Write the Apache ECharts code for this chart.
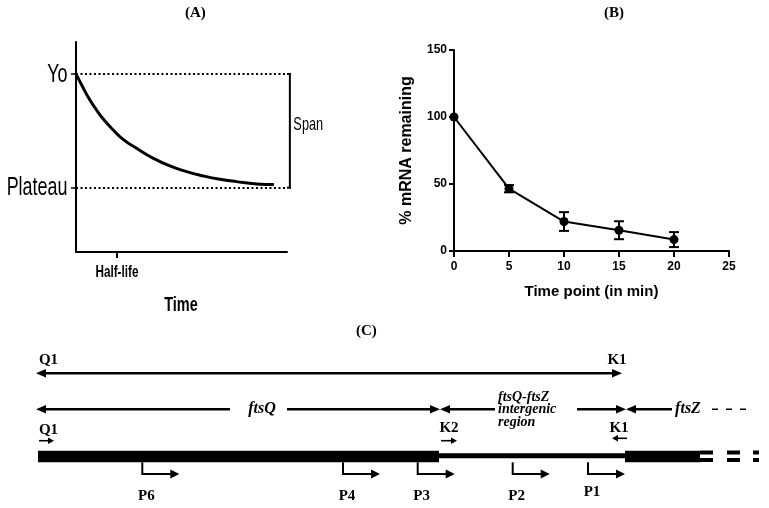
<!DOCTYPE html>
<html><head><meta charset="utf-8">
<script src="https://cdn.jsdelivr.net/npm/echarts@6/dist/echarts.min.js"></script>
<style>html,body{margin:0;padding:0;background:#fff}#c{width:769px;height:508px}</style>
</head><body><div id="c"></div>
<script>
// ---------- Panel A: schematic one-phase decay ----------
const decayTime   = [0, 0.18, 0.34, 0.5, 0.67, 0.91, 1.15, 1.48, 1.89, 2.29, 2.70, 3.11, 3.51, 3.92, 4.41, 4.83];
const decaySignal = [100, 87.4, 77.0, 68.3, 60.1, 50.7, 42.5, 34.6, 25.8, 19.1, 14.1, 10.3, 7.4, 5.3, 3.3, 2.7];
const levelValues = [0, 100];
const levelNames  = ['Plateau', 'Yo'];
const halfLife    = 1;
const halfLifeName = 'Half-life';
const spanName    = 'Span';
const timeAxisA   = 'Time';
const xMaxA = 5.15, yMinA = -56.6, yMaxA = 128.1;
const spanBracketX = 5.22;

// ---------- Panel B: mRNA decay ----------
const timePoints    = [0, 5, 10, 15, 20];
const mrnaRemaining = [100, 46.5, 22, 15.5, 8.5];
const mrnaError     = [0, 2.7, 7, 6.7, 5.6];
const yTitleB = '% mRNA remaining';
const xTitleB = 'Time point (in min)';

// ---------- Panel C: ftsQ-ftsZ region map (map units) ----------
// [start, end, band]
const geneSegments = [
  [8, 409, 'thick'], [409, 595, 'thin'], [595, 670, 'thick'],
  [670, 683, 'breakTop'], [670, 683, 'breakBottom'],
  [697, 710, 'breakTop'], [697, 710, 'breakBottom'],
  [723, 729, 'breakTop'], [723, 729, 'breakBottom']
];
// [from, to, track, heads]
const spanArrows = [
  [6, 592, 53.3, 'both'],
  [6, 200, 89.3, 'start'], [257, 410, 89.3, 'end'],
  [410, 465, 89.3, 'start'], [547, 596, 89.3, 'end'],
  [596, 642, 89.3, 'start']
];
const ftsZDashes = [682, 720, 89.3];
const primerArrows = [[9, 24, 120.7, 'end'], [411, 427, 120.7, 'end'], [597, 582, 118.3, 'end']];
const promoterNames = ['P6', 'P4', 'P3', 'P2', 'P1'];
const promoterPos   = [112.3, 313, 387.7, 482.7, 558];
const promoterLabelTrack = [175.7, 175.7, 175.7, 175.7, 172.3];
// [x, track, text, kind]
const mapLabels = [
  [18.5, 40, 'Q1', 'b'], [587, 40, 'K1', 'b'],
  [18.5, 110, 'Q1', 'b'], [419, 108, 'K2', 'b'], [589, 108, 'K1', 'b'],
  [232, 89, 'ftsQ', 'i'], [468, 89.5, 'ftsQ-ftsZ\nintergenic\nregion', 'il'], [658, 89, 'ftsZ', 'i']
];

// ---------- styles ----------
const SANS = '"Liberation Sans",Arial,sans-serif';
const SERIF = '"Liberation Serif","Times New Roman",serif';
const NARROW_SCALE = 0.69;
const bands = { thick: [130.7, 142.3], thin: [133.3, 138.3], breakTop: [130.5, 134.5], breakBottom: [138, 142] };
const barBottomTrack = 142.3, elbowTrack = 154, promoterLen = 37;

function tri(tipX, y, dir, len, half) {
  return { type: 'polygon', shape: { points: [[tipX, y], [tipX - dir * len, y - half], [tipX - dir * len, y + half]] }, style: { fill: '#000' } };
}
function arrowGroup(api, x1, x2, y, heads, lw, len, half) {
  const a = api.coord([x1, y]), b = api.coord([x2, y]);
  const dir = b[0] >= a[0] ? 1 : -1;
  const ch = [];
  let sx = a[0], ex = b[0];
  if (heads === 'start' || heads === 'both') { ch.push(tri(a[0], a[1], -dir, len, half)); sx = a[0] + dir * (len - 1); }
  if (heads === 'end' || heads === 'both') { ch.push(tri(b[0], b[1], dir, len, half)); ex = b[0] - dir * (len - 1); }
  ch.push({ type: 'line', shape: { x1: sx, y1: a[1], x2: ex, y2: b[1] }, style: { stroke: '#000', lineWidth: lw } });
  return { type: 'group', children: ch };
}
function narrowText(x, y, text, size, bold, align) {
  return { type: 'text', x: x, y: y, scaleX: NARROW_SCALE, scaleY: 1,
    style: { text: text, fontFamily: SANS, fontSize: size, fontWeight: bold ? 'bold' : 'normal', fill: '#000',
      align: align, verticalAlign: 'middle' } };
}

const chart = echarts.init(document.getElementById('c'), null, { renderer: 'canvas' });
const option = {
  animation: false,
  backgroundColor: '#fff',
  title: [
    { text: '(A)', left: 185, top: 6, textStyle: { fontFamily: SERIF, fontWeight: 'bold', fontSize: 15, color: '#000' }, padding: 0 },
    { text: '(B)', left: 604, top: 6, textStyle: { fontFamily: SERIF, fontWeight: 'bold', fontSize: 15, color: '#000' }, padding: 0 },
    { text: '(C)', left: 356, top: 324, textStyle: { fontFamily: SERIF, fontWeight: 'bold', fontSize: 15, color: '#000' }, padding: 0 }
  ],
  grid: [
    { left: 76, top: 42, width: 211, height: 210, outerBoundsMode: 'none' },
    { left: 454, top: 50, width: 275, height: 201, outerBoundsMode: 'none' },
    { left: 30, top: 320, width: 739, height: 188, outerBoundsMode: 'none' }
  ],
  xAxis: [
    { gridIndex: 0, type: 'value', min: 0, max: xMaxA,
      axisLine: { show: true, onZero: false, lineStyle: { color: '#000', width: 2 } },
      axisTick: { show: true, customValues: [halfLife], length: 6, lineStyle: { color: '#000', width: 2 } },
      axisLabel: { show: false },
      splitLine: { show: false } },
    { gridIndex: 1, type: 'value', min: 0, max: 25, interval: 5,
      axisLine: { show: true, onZero: false, lineStyle: { color: '#000', width: 2 } },
      axisTick: { show: true, length: 6, lineStyle: { color: '#000', width: 2 } },
      axisLabel: { margin: 10, fontFamily: SANS, fontWeight: 'bold', fontSize: 12, color: '#000' },
      splitLine: { show: false },
      name: xTitleB, nameLocation: 'middle', nameGap: 33,
      nameTextStyle: { fontFamily: SANS, fontWeight: 'bold', fontSize: 15, color: '#000' } },
    { gridIndex: 2, type: 'value', min: 0, max: 739, show: false }
  ],
  yAxis: [
    { gridIndex: 0, type: 'value', min: yMinA, max: yMaxA,
      axisLine: { show: true, onZero: false, lineStyle: { color: '#000', width: 2 } },
      axisTick: { show: true, customValues: levelValues, length: 5, lineStyle: { color: '#000', width: 1.5 } },
      axisLabel: { show: false },
      splitLine: { show: false } },
    { gridIndex: 1, type: 'value', min: 0, max: 150, interval: 50,
      axisLine: { show: true, onZero: false, lineStyle: { color: '#000', width: 2 } },
      axisTick: { show: true, length: 5, lineStyle: { color: '#000', width: 2 } },
      axisLabel: { margin: 7, fontFamily: SANS, fontWeight: 'bold', fontSize: 12, color: '#000' },
      splitLine: { show: false },
      name: yTitleB, nameLocation: 'middle', nameGap: 39, nameRotate: 90,
      nameTextStyle: { fontFamily: SANS, fontWeight: 'bold', fontSize: 16, color: '#000' } },
    { gridIndex: 2, type: 'value', min: 0, max: 188, inverse: true, show: false }
  ],
  series: [
    // Panel A curve
    { type: 'line', xAxisIndex: 0, yAxisIndex: 0, smooth: true, showSymbol: false, symbol: 'none',
      data: decayTime.map((t, i) => [t, decaySignal[i]]),
      lineStyle: { color: '#000', width: 3 },
      markLine: { silent: true, symbol: 'none', label: { show: false },
        lineStyle: { color: '#000', width: 2, type: [2, 2.5] },
        data: levelValues.map(v => [{ coord: [0, v] }, { coord: [xMaxA, v] }]) } },
    // Panel A span bracket
    { type: 'custom', xAxisIndex: 0, yAxisIndex: 0, clip: false, silent: true,
      data: [[spanBracketX, levelValues[0], levelValues[1]]],
      renderItem: (params, api) => {
        const x = api.value(0);
        const lo = api.coord([x, api.value(1)]), hi = api.coord([x, api.value(2)]);
        const s0 = api.coord([xMaxA, 0])[0];
        return { type: 'group', children: [
          { type: 'line', shape: { x1: lo[0], y1: lo[1] + 1, x2: hi[0], y2: hi[1] - 1 }, style: { stroke: '#000', lineWidth: 2 } },
          { type: 'line', shape: { x1: s0, y1: hi[1], x2: hi[0] + 1, y2: hi[1] }, style: { stroke: '#000', lineWidth: 2 } },
          { type: 'line', shape: { x1: s0, y1: lo[1], x2: lo[0] + 1, y2: lo[1] }, style: { stroke: '#000', lineWidth: 2 } },
          narrowText(lo[0] + 3.5, (lo[1] + hi[1]) / 2 - 6, spanName, 18.5, false, 'left')
        ] };
      } },
    // Panel A axis texts
    { type: 'custom', xAxisIndex: 0, yAxisIndex: 0, clip: false, silent: true,
      data: levelValues.map(v => [0, v]),
      renderItem: (params, api) => {
        const i = params.dataIndex;
        const p = api.coord([0, levelValues[i]]);
        const ch = [narrowText(p[0] - 8.5, p[1] + 0.5, levelNames[i], 26, false, 'right')];
        if (i === 0) {
          const h = api.coord([halfLife, yMinA]);
          const mid = api.coord([xMaxA / 2, yMinA]);
          ch.push(narrowText(h[0], h[1] + 20, halfLifeName, 17, true, 'center'));
          ch.push(narrowText(mid[0] - 0.5, mid[1] + 53.5, timeAxisA, 21, true, 'center'));
        }
        return { type: 'group', children: ch };
      } },
    // Panel B error bars
    { type: 'custom', xAxisIndex: 1, yAxisIndex: 1, silent: true, z: 2,
      data: timePoints.map((t, i) => [t, mrnaRemaining[i] - mrnaError[i], mrnaRemaining[i] + mrnaError[i]]),
      renderItem: (params, api) => {
        const x = api.value(0);
        const lo = api.coord([x, api.value(1)]), hi = api.coord([x, api.value(2)]);
        if (Math.abs(lo[1] - hi[1]) < 1) return { type: 'group', children: [] };
        const c = 5;
        const st = { stroke: '#000', lineWidth: 2 };
        return { type: 'group', children: [
          { type: 'line', shape: { x1: lo[0], y1: lo[1], x2: hi[0], y2: hi[1] }, style: st },
          { type: 'line', shape: { x1: lo[0] - c, y1: lo[1], x2: lo[0] + c, y2: lo[1] }, style: st },
          { type: 'line', shape: { x1: hi[0] - c, y1: hi[1], x2: hi[0] + c, y2: hi[1] }, style: st }
        ] };
      } },
    // Panel B line
    { type: 'line', xAxisIndex: 1, yAxisIndex: 1, z: 3,
      data: timePoints.map((t, i) => [t, mrnaRemaining[i]]),
      symbol: 'circle', symbolSize: 9, showSymbol: true,
      itemStyle: { color: '#000' }, lineStyle: { color: '#000', width: 2 } },
    // Panel C bars
    { type: 'custom', xAxisIndex: 2, yAxisIndex: 2, clip: false, silent: true,
      data: geneSegments.map(s => [s[0], s[1]]),
      renderItem: (params, api) => {
        const s = geneSegments[params.dataIndex];
        const b = bands[s[2]];
        const p0 = api.coord([s[0], b[0]]), p1 = api.coord([s[1], b[1]]);
        return { type: 'rect', shape: { x: p0[0], y: p0[1], width: p1[0] - p0[0], height: p1[1] - p0[1] }, style: { fill: '#000' } };
      } },
    // Panel C long arrows
    { type: 'custom', xAxisIndex: 2, yAxisIndex: 2, clip: false, silent: true,
      data: spanArrows.map(a => [a[0], a[2]]),
      renderItem: (params, api) => {
        const a = spanArrows[params.dataIndex];
        return arrowGroup(api, a[0], a[1], a[2], a[3], 2.6, 10, 4.2);
      } },
    // ftsZ continuation dashes
    { type: 'custom', xAxisIndex: 2, yAxisIndex: 2, clip: false, silent: true,
      data: [[ftsZDashes[0], ftsZDashes[2]]],
      renderItem: (params, api) => {
        const a = api.coord([ftsZDashes[0], ftsZDashes[2]]), b = api.coord([ftsZDashes[1], ftsZDashes[2]]);
        return { type: 'line', shape: { x1: a[0], y1: a[1], x2: b[0], y2: b[1] }, style: { stroke: '#000', lineWidth: 1.6, lineDash: [6, 8] } };
      } },
    // primer arrows
    { type: 'custom', xAxisIndex: 2, yAxisIndex: 2, clip: false, silent: true,
      data: primerArrows.map(a => [a[0], a[2]]),
      renderItem: (params, api) => {
        const a = primerArrows[params.dataIndex];
        return arrowGroup(api, a[0], a[1], a[2], a[3], 1.6, 6, 3.3);
      } },
    // promoters
    { type: 'custom', xAxisIndex: 2, yAxisIndex: 2, clip: false, silent: true,
      data: promoterPos.map(p => [p, elbowTrack]),
      renderItem: (params, api) => {
        const i = params.dataIndex, x = promoterPos[i];
        const top = api.coord([x, barBottomTrack]), el = api.coord([x, elbowTrack]);
        const arr = arrowGroup(api, x, x + promoterLen, elbowTrack, 'end', 2, 9, 4.5);
        const lab = api.coord([x + 4, promoterLabelTrack[i]]);
        arr.children.push({ type: 'line', shape: { x1: top[0], y1: top[1], x2: el[0], y2: el[1] + 1 }, style: { stroke: '#000', lineWidth: 2 } });
        arr.children.push({ type: 'text', x: lab[0], y: lab[1],
          style: { text: promoterNames[i], fontFamily: SERIF, fontWeight: 'bold', fontSize: 15, fill: '#000', align: 'center', verticalAlign: 'middle' } });
        return arr;
      } },
    // map labels
    { type: 'custom', xAxisIndex: 2, yAxisIndex: 2, clip: false, silent: true,
      data: mapLabels.map(l => [l[0], l[1]]),
      renderItem: (params, api) => {
        const l = mapLabels[params.dataIndex];
        const p = api.coord([l[0], l[1]]);
        const italic = l[3] !== 'b';
        return { type: 'text', x: p[0], y: p[1],
          style: { text: l[2], fontFamily: SERIF, fontWeight: 'bold', fontStyle: italic ? 'italic' : 'normal',
            fontSize: l[3] === 'il' ? 14 : (l[3] === 'i' ? 16 : 15), lineHeight: 12.5, fill: '#000',
            align: l[3] === 'il' ? 'left' : 'center', verticalAlign: 'middle' } };
      } }
  ]
};
chart.setOption(option);
</script>
</body></html>
